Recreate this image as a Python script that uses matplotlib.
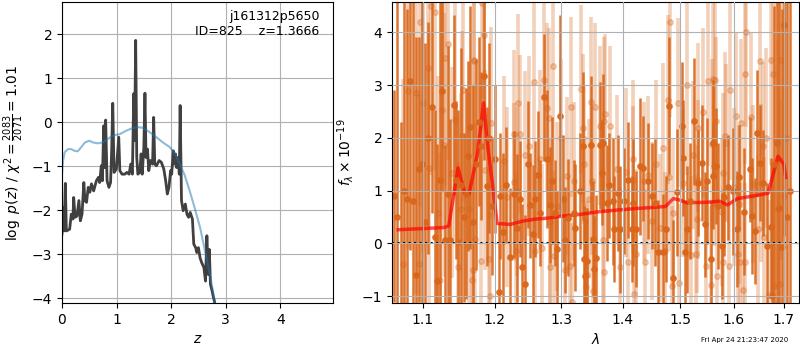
import numpy as np
import matplotlib
matplotlib.use("Agg")
import matplotlib.pyplot as plt
from matplotlib.ticker import NullLocator, FixedLocator, FixedFormatter

# ---- left panel: log p(z) and prior
z_pz = [0.00, 0.018, 0.037, 0.061, 0.08, 0.14, 0.17, 0.20, 0.214, 0.24,
        0.275, 0.31, 0.336, 0.367, 0.40, 0.42, 0.45, 0.48, 0.51, 0.54,
        0.58, 0.63, 0.67, 0.69, 0.72, 0.74, 0.765, 0.78, 0.80, 0.826,
        0.86, 0.89, 0.91, 0.93, 0.954, 0.997, 1.04, 1.06, 1.10, 1.15,
        1.19, 1.23, 1.26, 1.29, 1.315, 1.33, 1.35, 1.37, 1.39, 1.425,
        1.45, 1.47, 1.50, 1.52, 1.54, 1.566, 1.59, 1.62, 1.66, 1.68,
        1.70, 1.73, 1.78, 1.82, 1.865, 1.90, 1.93, 1.96, 1.99, 2.01,
        2.04, 2.055, 2.08, 2.10, 2.13, 2.15, 2.165, 2.19, 2.22, 2.26,
        2.29, 2.32, 2.35, 2.39, 2.415, 2.45, 2.47, 2.50, 2.53, 2.56,
        2.60, 2.63, 2.655, 2.68, 2.70, 2.72, 2.75, 2.77, 2.82]
logpz = [-2.54, -1.94, -2.47, -1.39, -2.47, -2.43, -2.09, -2.20, -1.71, -2.16,
         -2.13, -1.78, -2.24, -2.09, -1.37, -1.78, -1.82, -1.48, -1.59, -1.40,
         -1.56, -1.33, -1.25, -1.37, -0.99, -1.33, -0.08, -1.03, 0.05, -1.33,
         -1.48, -1.37, -0.65, 0.43, -1.14, -1.06, -0.34, -1.10, -1.18, -1.18,
         -1.14, -1.18, -0.95, -1.18, 0.65, -0.42, 1.86, -0.80, -1.18, -1.14,
         -0.72, -1.18, -0.57, 0.66, -0.80, -0.61, -1.10, -0.87, -0.95, 0.11,
         -0.95, -0.99, -0.87, -0.91, -1.06, -1.33, -1.63, -1.48, -1.10, -1.18,
         -0.65, -0.95, -0.72, -1.03, -0.80, -1.18, 0.38, -1.78, -2.01, -1.86,
         -2.09, -2.16, -2.05, -2.20, -2.77, -2.85, -2.96, -2.85, -3.08, -3.19,
         -3.30, -3.61, -2.58, -3.46, -2.89, -3.68, -3.83, -3.95, -4.21]

z_prior = [0.00, 0.02, 0.05, 0.11, 0.17, 0.23, 0.29, 0.35, 0.42, 0.50,
           0.57, 0.66, 0.75, 0.84, 0.94, 1.06, 1.18, 1.30, 1.39, 1.49,
           1.61, 1.73, 1.85, 1.98, 2.07, 2.16, 2.25, 2.34, 2.43, 2.53,
           2.62, 2.71, 2.77, 2.82]
log_prior = [-1.18, -0.87, -0.68, -0.61, -0.61, -0.65, -0.66, -0.57, -0.46, -0.42,
             -0.46, -0.48, -0.46, -0.38, -0.30, -0.27, -0.19, -0.13, -0.11, -0.13,
             -0.23, -0.34, -0.46, -0.57, -0.72, -0.95, -1.21, -1.56, -1.94, -2.39,
             -2.92, -3.45, -3.87, -4.21]

# ---- right panel: spectrum (grism A, dark)
lam_a = [1.063, 1.067, 1.071, 1.075, 1.0787, 1.083, 1.087, 1.091, 1.095, 1.099,
         1.103, 1.107, 1.1126, 1.1165, 1.1192, 1.1230, 1.1264, 1.1300, 1.1336, 1.1373,
         1.1418, 1.1450, 1.1484, 1.1520, 1.1560, 1.1595, 1.1613, 1.1650, 1.1690, 1.1730,
         1.1770, 1.1797, 1.1837, 1.1886, 1.1920, 1.1958, 1.2000, 1.2052, 1.2080, 1.2112,
         1.2160, 1.2223, 1.2274, 1.2320, 1.2362, 1.2397, 1.2447, 1.2490, 1.2523, 1.2558,
         1.2600, 1.2640, 1.2674, 1.2725, 1.2777, 1.2817, 1.2853, 1.2904, 1.2929, 1.2982,
         1.3022, 1.3057, 1.3107, 1.3195, 1.3221, 1.3290, 1.3337, 1.3353, 1.3380, 1.3416,
         1.3472, 1.3503, 1.3530, 1.3558, 1.3613, 1.3652, 1.3669, 1.3744, 1.3776, 1.3843,
         1.3860, 1.3926, 1.3958, 1.4012, 1.4080, 1.4155, 1.4180, 1.4226, 1.4296, 1.4341,
         1.4440, 1.4500, 1.4556, 1.4614, 1.4702, 1.4751, 1.4808, 1.4869, 1.4941, 1.5031,
         1.5059, 1.5090, 1.5121, 1.5253, 1.5322, 1.5396, 1.5458, 1.5501, 1.5564, 1.5602,
         1.5617, 1.5667, 1.5711, 1.5774, 1.5818, 1.5901, 1.5998, 1.6075, 1.6114, 1.6200,
         1.6311, 1.6358, 1.6425, 1.6458, 1.6510, 1.6578, 1.6659, 1.6740, 1.6760, 1.6792,
         1.6861, 1.6909, 1.6964, 1.7011, 1.7065, 1.7126, 1.5180]
flux_a = [0.90, 0.50, -1.50, 1.00, 0.84, 3.07, 0.80, -0.60, 1.40, 1.50,
          0.40, 2.00, 2.58, 0.13, -0.72, 1.20, 2.89, 0.07, 0.93, 0.06,
          2.62, 1.20, 0.02, 1.10, 0.50, 0.94, 1.65, 2.20, 0.40, 1.50,
          2.30, 1.84, 3.18, 1.08, 2.00, 0.71, 1.60, -0.92, 0.90, 0.21,
          1.10, -0.25, 0.93, 0.30, 0.84, -0.45, -0.77, 1.50, 0.72, 0.18,
          0.84, 1.30, 0.58, 2.77, 1.60, 0.72, 1.19, 0.58, -0.11, 2.42,
          0.85, 0.07, 0.49, 0.58, 0.30, 0.99, 1.84, -0.30, -0.61, -0.33,
          1.87, 0.09, -0.49, -0.28, 1.86, 1.34, 1.90, 0.76, 1.10, 0.80,
          0.27, 0.96, 0.27, 0.80, 1.20, 0.27, 0.77, 0.27, 1.46, 1.42,
          1.18, 0.90, 0.77, -0.17, -0.17, 0.27, 2.61, -0.66, 0.97, 2.23,
          1.62, -0.17, 0.27, 2.31, 1.15, 1.53, 0.36, 1.18, -0.30, 1.90,
          1.28, 1.46, 0.71, -0.05, 0.87, 1.06, 0.99, 0.27, 1.25, 0.60,
          1.40, 0.52, 0.24, 2.09, 1.53, 1.15, -0.05, 0.32, -0.99, 1.50,
          1.90, 0.68, -0.06, 4.14, 0.50, 1.00, 0.80]
err_a = [2.0, 4.5, 3.8, 4.0, 3.6, 3.2, 4.0, 4.5, 2.5, 3.5,
         3.4, 2.2, 2.0, 2.4, 2.6, 3.4, 1.9, 1.8, 2.8, 2.3,
         1.7, 1.5, 2.5, 2.6, 1.6, 2.0, 1.8, 2.3, 2.6, 2.0,
         1.6, 1.4, 1.6, 1.5, 1.8, 1.3, 1.4, 1.3, 1.2, 1.5,
         1.1, 1.3, 1.2, 1.4, 1.1, 1.2, 1.3, 1.2, 1.0, 1.3,
         1.1, 1.2, 1.0, 1.2, 1.3, 1.1, 1.2, 1.0, 1.1, 1.9,
         1.2, 1.0, 1.1, 1.0, 1.2, 1.1, 1.4, 1.0, 1.1, 1.0,
         1.3, 1.1, 1.0, 1.2, 1.2, 1.0, 1.3, 1.1, 1.0, 1.2,
         1.0, 1.1, 1.2, 1.0, 1.1, 1.0, 1.2, 1.1, 1.3, 1.0,
         1.1, 1.0, 1.2, 1.0, 1.1, 1.0, 1.3, 1.1, 1.2, 1.2,
         1.1, 1.0, 1.2, 1.2, 1.0, 1.1, 1.0, 1.2, 1.1, 1.2,
         1.0, 1.1, 1.2, 1.0, 1.1, 1.0, 1.2, 1.1, 1.0, 1.2,
         1.0, 1.1, 1.0, 1.2, 1.1, 1.0, 1.2, 1.3, 2.5, 3.0,
         3.5, 4.0, 4.5, 4.0, 4.5, 4.0, 1.1]

# ---- grism B (light)
lam_b = [1.0738, 1.0803, 1.0913, 1.0956, 1.0970, 1.1000, 1.1066, 1.1090, 1.1110, 1.1160,
         1.1200, 1.1228, 1.1260, 1.1280, 1.1295, 1.1336, 1.1397, 1.1438, 1.1478, 1.1515,
         1.1530, 1.1549, 1.1636, 1.1674, 1.1688, 1.1696, 1.1706, 1.1720, 1.1805, 1.1815,
         1.1848, 1.1862, 1.1910, 1.1934, 1.1944, 1.2126, 1.2176, 1.2274, 1.2284, 1.2313,
         1.2318, 1.2335, 1.2362, 1.2447, 1.2496, 1.2584, 1.2595, 1.2674, 1.2700, 1.2725,
         1.2777, 1.2801, 1.2817, 1.2827, 1.2869, 1.2880, 1.3090, 1.3143, 1.3153, 1.3165,
         1.2930, 1.3000, 1.3050, 1.3195, 1.3311, 1.3343, 1.3355, 1.3380, 1.3392, 1.3408,
         1.3449, 1.3472, 1.3488, 1.3512, 1.3542, 1.3624, 1.3669, 1.3679, 1.3685, 1.3695,
         1.3791, 1.3904, 1.3958, 1.4047, 1.4081, 1.4165, 1.4180, 1.4195, 1.4230, 1.4360,
         1.4375, 1.4501, 1.4702, 1.4732, 1.4790, 1.4808, 1.4821, 1.4851, 1.4876, 1.4970,
         1.4988, 1.5059, 1.5131, 1.5193, 1.5241, 1.5290, 1.5303, 1.5322, 1.5333, 1.5414,
         1.5477, 1.5519, 1.5573, 1.5584, 1.5612, 1.5625, 1.5648, 1.5667, 1.5692, 1.5774,
         1.5793, 1.5804, 1.5836, 1.5850, 1.5913, 1.5926, 1.6000, 1.6051, 1.6081, 1.6114,
         1.6125, 1.6147, 1.6182, 1.6214, 1.6230, 1.6247, 1.6344, 1.6376, 1.6476, 1.6510,
         1.6544, 1.6576, 1.6590, 1.6644, 1.6699, 1.6746, 1.6778, 1.6792, 1.6845, 1.6877,
         1.6928, 1.6948, 1.7000, 1.7050, 1.4430, 1.4580, 1.4640]
flux_b = [-0.39, 2.89, 2.85, -0.39, 4.19, 2.66, 3.32, 1.43, 4.50, 4.38,
          0.58, -0.69, 2.53, 1.87, 3.51, 3.78, 1.34, 2.34, -0.45, 0.65,
          2.03, 2.91, 0.65, -0.69, -0.50, 3.48, 3.46, 0.08, -0.33, 4.55,
          3.95, 1.39, -0.30, -1.00, 2.29, 1.57, 0.88, 1.16, 2.07, -0.14,
          0.99, 2.65, 2.07, 1.67, 1.84, 3.05, -0.14, 1.59, -0.09, 3.10,
          2.57, 2.38, -0.44, 0.40, 3.36, -0.23, 1.28, -0.42, 2.58, -1.11,
          0.70, 2.00, -0.50, 1.18, 2.92, 2.19, 1.50, 0.43, -0.83, -0.60,
          0.85, 2.68, 1.18, -0.90, 2.58, 2.23, 0.07, 2.31, -0.55, 2.46,
          2.23, 1.41, -0.45, 1.35, -0.36, 1.59, 1.21, -0.96, -0.20, 1.18,
          -0.36, 0.43, 1.81, -0.14, 2.72, 1.25, 4.20, -0.80, 0.58, 2.66,
          -0.75, 1.15, 3.00, -0.22, 1.68, -0.20, 0.46, 2.19, 1.21, 2.48,
          -0.42, 3.07, -0.79, 1.89, 3.11, 1.46, 3.10, 2.31, -0.61, 0.60,
          1.34, -0.36, 2.03, 1.90, -0.43, 2.91, 1.07, 2.41, -0.20, 0.74,
          -0.36, 2.28, -0.89, 3.21, -0.36, 4.01, 2.40, 1.12, 0.27, 3.45,
          1.14, 1.84, 0.13, 2.00, -0.98, 3.48, 3.21, -0.81, 1.94, 0.66,
          -0.77, 3.48, 0.90, 2.00, 1.30, 1.50, 0.30]
err_b = [3.5, 3.0, 3.8, 3.2, 3.5, 2.8, 3.0, 2.6, 3.2, 3.0,
         2.6, 2.4, 2.2, 2.5, 2.4, 2.2, 2.0, 2.3, 2.0, 2.2,
         2.0, 2.1, 2.2, 1.9, 2.0, 2.0, 1.8, 2.2, 2.0, 1.8,
         1.8, 1.9, 1.7, 1.6, 1.8, 1.6, 1.7, 1.5, 1.6, 1.5,
         1.6, 1.7, 1.5, 1.6, 1.7, 1.6, 1.5, 1.7, 1.6, 1.5,
         1.6, 1.7, 1.5, 1.6, 1.8, 1.6, 1.5, 1.4, 1.7, 1.5,
         1.6, 1.5, 1.4, 1.5, 1.6, 1.4, 1.5, 1.6, 1.5, 1.4,
         1.5, 1.6, 1.4, 1.5, 1.6, 1.5, 1.4, 1.6, 1.5, 1.5,
         1.5, 1.4, 1.5, 1.6, 1.4, 1.5, 1.4, 1.5, 1.6, 1.5,
         1.4, 1.5, 1.6, 1.5, 1.6, 1.4, 1.8, 1.5, 1.4, 1.6,
         1.5, 1.4, 1.7, 1.5, 1.4, 1.5, 1.4, 1.6, 1.5, 1.6,
         1.5, 1.6, 1.5, 1.6, 1.7, 1.5, 1.8, 1.6, 1.5, 1.4,
         1.5, 1.4, 1.6, 1.5, 1.4, 1.7, 1.5, 1.6, 1.4, 1.5,
         1.5, 1.6, 1.5, 1.7, 1.5, 1.8, 1.6, 1.5, 1.4, 1.8,
         1.5, 1.6, 1.5, 1.7, 1.8, 2.0, 2.2, 2.4, 2.8, 3.2,
         3.5, 3.8, 4.0, 4.0, 1.5, 1.6, 1.4]

# ---- best-fit model
lam_model = [1.068, 1.128, 1.135, 1.1478, 1.157, 1.163, 1.175, 1.1837, 1.190, 1.1975,
             1.2032, 1.2223, 1.24, 1.26, 1.28, 1.3036, 1.33, 1.36, 1.389, 1.42,
             1.45, 1.474, 1.488, 1.50, 1.512, 1.55, 1.5734, 1.588, 1.608, 1.64,
             1.668, 1.688, 1.700, 1.704]
flux_model = [0.26, 0.30, 0.33, 1.43, 0.96, 0.93, 1.70, 2.66, 1.80, 1.02,
              0.38, 0.36, 0.42, 0.46, 0.48, 0.52, 0.55, 0.60, 0.63, 0.66,
              0.68, 0.70, 0.85, 0.82, 0.77, 0.78, 0.80, 0.73, 0.85, 0.90,
              0.95, 1.65, 1.50, 1.25]

c_spec = '#d9661a'

fig = plt.figure(figsize=(8, 3.5), dpi=100)
ax1 = fig.add_axes([0.0775, 0.134, 0.339, 0.86])
ax2 = fig.add_axes([0.49, 0.134, 0.509, 0.86])

ax1.plot(z_pz, logpz, color='0.25', lw=2)
ax1.plot(z_prior, log_prior, color='tab:blue', alpha=0.5, lw=1.5)
ax1.set_xlim(0, 4.97)
ax1.set_ylim(-4.11, 2.73)
ax1.set_xticks([0, 1, 2, 3, 4])
ax1.set_yticks([-4, -3, -2, -1, 0, 1, 2])
ax1.grid()
ax1.set_xlabel('$z$')
ax1.set_ylabel(r'$\log\ p(z)$' + ' / ' + r'$\chi^2=\frac{2083}{2071}=1.01$')
ax1.text(0.95, 0.975, 'j161312p5650\nID=825    z=1.3666', transform=ax1.transAxes,
         ha='right', va='top', fontsize=9)

ax2.errorbar(lam_b, flux_b, yerr=err_b, fmt='o', color=c_spec, alpha=0.3,
             markersize=4, elinewidth=2.6, capsize=0, linestyle='none')
ax2.errorbar(lam_a, flux_a, yerr=err_a, fmt='o', color=c_spec, alpha=0.9,
             markersize=3.8, elinewidth=1.8, capsize=0, linestyle='none')
ax2.plot(lam_model, flux_model, color='r', lw=2.5, alpha=0.7)
ax2.axhline(0, color='k', ls=':', lw=1.5)

ax2.set_xscale('log')
ax2.set_xlim(1.06, 1.7317)
ax2.set_ylim(-1.13, 4.57)
ticks = [1.1, 1.2, 1.3, 1.4, 1.5, 1.6, 1.7]
ax2.xaxis.set_major_locator(FixedLocator(ticks))
ax2.xaxis.set_major_formatter(FixedFormatter(['%.1f' % t for t in ticks]))
ax2.xaxis.set_minor_locator(NullLocator())
ax2.set_yticks([-1, 0, 1, 2, 3, 4])
ax2.set_axisbelow(False)
ax2.grid()
ax2.set_xlabel(r'$\lambda$')
ax2.set_ylabel(r'$f_\lambda\times10^{-19}$')

fig.text(0.985, 0.029, 'Fri Apr 24 21:23:47 2020', ha='right', va='center', fontsize=5)

fig.savefig('out.png', dpi=100)
